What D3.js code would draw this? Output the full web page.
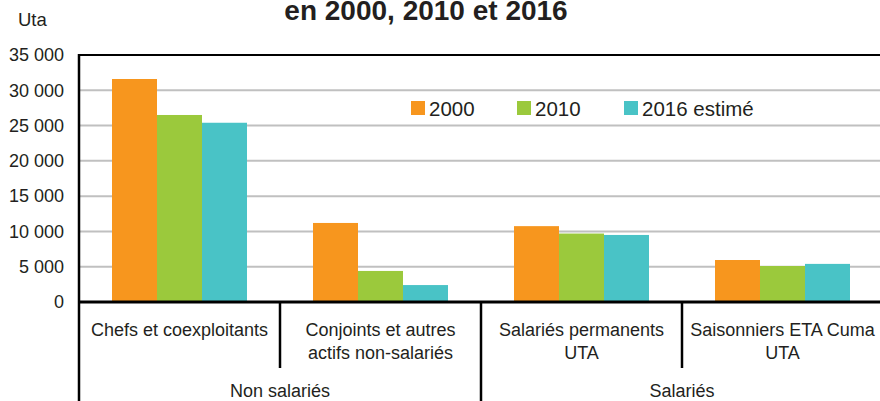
<!DOCTYPE html>
<html>
<head>
<meta charset="utf-8">
<script src="https://cdn.jsdelivr.net/npm/d3@7"></script>
<style>
  body { margin: 0; background: #fff; }
  svg { display: block; font-family: "Liberation Sans", Arial, sans-serif; }
</style>
</head>
<body>
<div id="chart-area"></div>
<script>
// data
var categories = [["Chefs et coexploitants"], ["Conjoints et autres", "actifs non-salariés"],
                  ["Salariés permanents", "UTA"], ["Saisonniers ETA Cuma", "UTA"]];
var groups = ["Non salariés", "Salariés"];
var series = ["2000", "2010", "2016 estimé"];
var v2000 = [31600, 11200, 10750, 5950];
var v2010 = [26500, 4400, 9700, 5100];
var v2016 = [25400, 2400, 9500, 5400];
var yTicks = [0, 5000, 10000, 15000, 20000, 25000, 30000, 35000];
var colors = ["#F7961E", "#9BC93C", "#49C3C6"];

var W = 880, H = 401;
var mLeft = 79, mRight = 883, mTop = 55, mBottom = 302;

var svg = d3.select("#chart-area").append("svg")
    .attr("width", W).attr("height", H);

var values = [v2000, v2010, v2016];
var data = categories.map(function (c, i) {
  return { cat: i, vals: series.map(function (s, j) { return { s: j, v: values[j][i] }; }) };
});

var x0 = d3.scaleBand().domain(d3.range(categories.length)).range([mLeft, mRight]).padding(0);
var x1 = d3.scaleBand().domain(d3.range(series.length)).range([33, 33 + 135]);
var y = d3.scaleLinear().domain([0, 35000]).range([mBottom, mTop]);

var fmt = d3.formatLocale({ decimal: ",", thousands: " ", grouping: [3], currency: ["", " €"] }).format(",d");

// title (first line is cropped out in the reference)
svg.append("text")
  .attr("x", 426).attr("y", 19.5)
  .attr("text-anchor", "middle")
  .attr("font-weight", "bold")
  .attr("font-size", "28px")
  .attr("fill", "#231f20")
  .text("en 2000, 2010 et 2016");

svg.append("text")
  .attr("x", 18).attr("y", 26)
  .attr("font-size", "18.5px")
  .attr("fill", "#231f20")
  .text("Uta");

// gridlines
svg.append("g").selectAll("line")
  .data(yTicks.filter(function (d) { return d > 0 && d < 35000; }))
  .enter().append("line")
  .attr("x1", mLeft).attr("x2", mRight)
  .attr("y1", function (d) { return y(d); }).attr("y2", function (d) { return y(d); })
  .attr("stroke", "#c0c0c0").attr("stroke-width", 2);

// y axis
var yAxis = d3.axisLeft(y).tickValues(yTicks).tickFormat(fmt).tickSize(0).tickPadding(15);
var ya = svg.append("g").attr("transform", "translate(" + mLeft + ",0)").call(yAxis);
ya.select(".domain").remove();
ya.selectAll("text").attr("font-size", "18px").attr("fill", "#231f20")
  .attr("font-family", "Liberation Sans, Arial, sans-serif");

// bars
var grp = svg.append("g").selectAll("g")
  .data(data).enter().append("g")
  .attr("transform", function (d) { return "translate(" + x0(d.cat) + ",0)"; });

grp.selectAll("rect")
  .data(function (d) { return d.vals; })
  .enter().append("rect")
  .attr("x", function (d) { return x1(d.s); })
  .attr("width", x1.bandwidth())
  .attr("y", function (d) { return y(d.v); })
  .attr("height", function (d) { return y(0) - y(d.v); })
  .attr("fill", function (d) { return colors[d.s]; });

// frame lines
svg.append("line").attr("x1", mLeft).attr("x2", mRight).attr("y1", mTop).attr("y2", mTop)
  .attr("stroke", "#000").attr("stroke-width", 2);
svg.append("line").attr("x1", mLeft).attr("x2", mRight).attr("y1", mBottom).attr("y2", mBottom)
  .attr("stroke", "#000").attr("stroke-width", 3);
svg.append("line").attr("x1", mLeft).attr("x2", mLeft).attr("y1", mTop - 1).attr("y2", H)
  .attr("stroke", "#000").attr("stroke-width", 2.5);

// category dividers
svg.append("g").selectAll("line")
  .data(d3.range(1, categories.length))
  .enter().append("line")
  .attr("x1", function (d) { return x0(d); }).attr("x2", function (d) { return x0(d); })
  .attr("y1", mBottom).attr("y2", function (d) { return d === 2 ? H : 368; })
  .attr("stroke", "#000").attr("stroke-width", 2.5);

// category labels
var cl = svg.append("g").selectAll("text")
  .data(categories).enter().append("text")
  .attr("text-anchor", "middle")
  .attr("font-size", "18px")
  .attr("fill", "#231f20");
cl.selectAll("tspan")
  .data(function (d, i) { return d.map(function (t) { return { t: t, i: i }; }); })
  .enter().append("tspan")
  .attr("x", function (d) { return x0(d.i) + x0.bandwidth() / 2; })
  .attr("y", function (d, k) { return 336 + k * 23; })
  .text(function (d) { return d.t; });

// group labels
svg.append("g").selectAll("text")
  .data(groups).enter().append("text")
  .attr("x", function (d, i) { return x0(i * 2) + x0.bandwidth(); })
  .attr("y", 397)
  .attr("text-anchor", "middle")
  .attr("font-size", "18px")
  .attr("fill", "#231f20")
  .text(function (d) { return d; });

// legend
var legX = [411, 517, 624];
var leg = svg.append("g").selectAll("g")
  .data(series).enter().append("g")
  .attr("transform", function (d, i) { return "translate(" + legX[i] + ",101)"; });
leg.append("rect").attr("width", 14).attr("height", 14)
  .attr("fill", function (d, i) { return colors[i]; });
leg.append("text").attr("x", 18).attr("y", 14.5)
  .attr("font-size", "20.5px").attr("fill", "#231f20")
  .text(function (d) { return d; });
</script>
</body>
</html>
